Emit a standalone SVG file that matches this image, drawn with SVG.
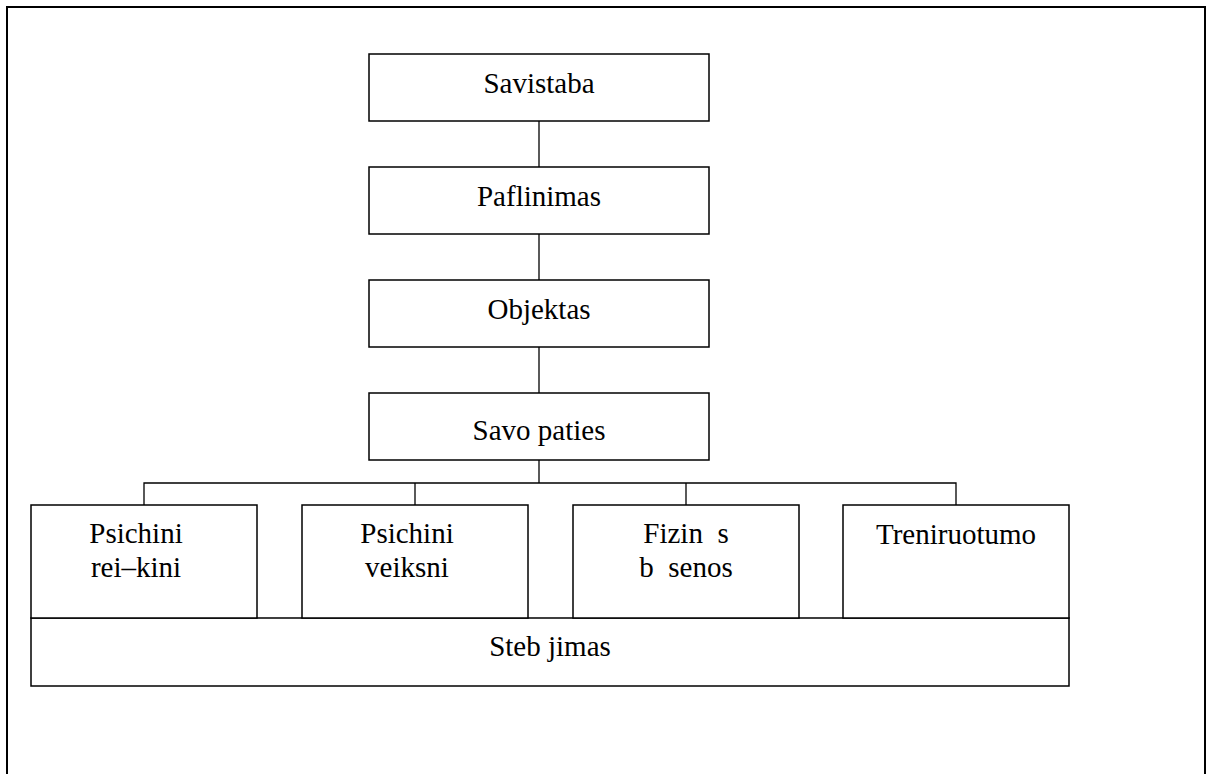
<svg xmlns="http://www.w3.org/2000/svg" width="1208" height="774" viewBox="0 0 1208 774">
<style>
.box{fill:#fff;stroke:#000;stroke-width:1.5}
.lbl{font-family:"Liberation Serif","Times New Roman",serif;font-size:29px;fill:#000;text-anchor:middle}
.con{fill:none;stroke:#000;stroke-width:1.3}
</style>
<rect width="1208" height="774" fill="#fff"/>
<path d="M7,774 V7 H1205 V774" fill="none" stroke="#000" stroke-width="2"/>
<g id="connectors">
<line class="con" x1="539" y1="121" x2="539" y2="167"/>
<line class="con" x1="539" y1="234" x2="539" y2="280"/>
<line class="con" x1="539" y1="347" x2="539" y2="393"/>
<line class="con" x1="539" y1="460" x2="539" y2="483"/>
<path class="con" d="M144,505 V483 H956 V505"/>
<line class="con" x1="415" y1="483" x2="415" y2="505"/>
<line class="con" x1="686" y1="483" x2="686" y2="505"/>
</g>
<g id="savistaba"><rect class="box" x="369" y="54" width="340" height="67"/><text class="lbl" x="539" y="93">Savistaba</text></g>
<g id="paflinimas"><rect class="box" x="369" y="167" width="340" height="67"/><text class="lbl" x="539" y="206">Paflinimas</text></g>
<g id="objektas"><rect class="box" x="369" y="280" width="340" height="67"/><text class="lbl" x="539" y="319">Objektas</text></g>
<g id="savo-paties"><rect class="box" x="369" y="393" width="340" height="67"/><text class="lbl" x="539" y="440">Savo paties</text></g>
<g id="stebejimas"><rect class="box" x="31" y="618" width="1038" height="68"/><text class="lbl" x="550" y="656">Steb jimas</text></g>
<g id="psichiniai-reiskiniai"><rect class="box" x="31" y="505" width="226" height="113"/><text class="lbl" x="136" y="543">Psichini</text><text class="lbl" x="136" y="577">rei–kini</text></g>
<g id="psichiniai-veiksniai"><rect class="box" x="302" y="505" width="226" height="113"/><text class="lbl" x="407" y="543">Psichini</text><text class="lbl" x="407" y="577">veiksni</text></g>
<g id="fizines-busenos"><rect class="box" x="573" y="505" width="226" height="113"/><text class="lbl" x="686" y="543" xml:space="preserve">Fizin  s</text><text class="lbl" x="686" y="577" xml:space="preserve">b  senos</text></g>
<g id="treniruotumo"><rect class="box" x="843" y="505" width="226" height="113"/><text class="lbl" x="956" y="544">Treniruotumo</text></g>
</svg>
